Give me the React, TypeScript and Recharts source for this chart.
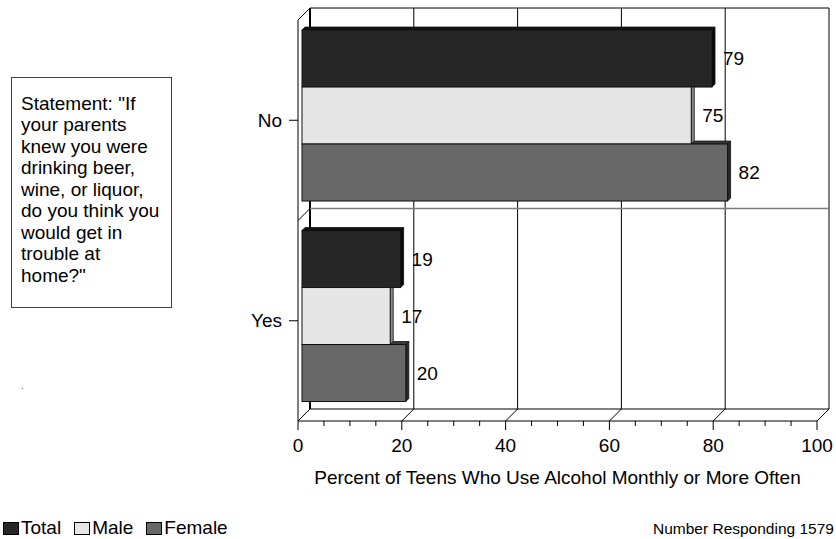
import { BarChart, Bar, XAxis, YAxis, CartesianGrid, ReferenceArea } from "recharts";

// ---- data ----
const CATEGORIES = ["No", "Yes"];
const SERIES = ["Total", "Male", "Female"];
const TOTAL = [79, 19];
const MALE = [75, 17];
const FEMALE = [82, 20];

const X_TICKS = [0, 5, 10, 15, 20, 25, 30, 35, 40, 45, 50, 55, 60, 65, 70, 75, 80, 85, 90, 95, 100];
const X_LABELED = [0, 20, 40, 60, 80, 100];

const AXIS_TITLE = "Percent of Teens Who Use Alcohol Monthly or More Often";
const FOOTNOTE = "Number Responding 1579";
const STATEMENT_LINES = [
  'Statement: "If',
  "your parents",
  "knew you were",
  "drinking beer,",
  "wine, or liquor,",
  "do you think you",
  "would get in",
  "trouble at",
  'home?"',
];

// ---- styling ----
const FONT = "'Liberation Sans', Arial, Helvetica, sans-serif";
const FACE = ["#262626", "#e6e6e6", "#686868"];
const SIDE = ["#080808", "#8a8a8a", "#2a2a2a"];
const TOP = ["#111111", "#a8a8a8", "#3a3a3a"];
const EDGE = "#111";
const WALL = 12; // depth of the back wall
const SHIFT = 4; // bars sit a little behind the front plane
const EXT = 3; // bar thickness

const data = CATEGORIES.map((cat, i) => ({
  cat,
  Total: TOTAL[i],
  Male: MALE[i],
  Female: FEMALE[i],
}));

// back wall verticals + floor diagonals, one per labelled tick
const gridVertical = (p: any) => {
  const { x1, y1, y2, index } = p;
  if (!X_LABELED.includes(X_TICKS[index])) return <g />;
  return (
    <g>
      <line x1={x1 + WALL} y1={y1 - WALL} x2={x1 + WALL} y2={y2 - WALL} stroke="#000" strokeWidth={index === 0 ? 2 : 1} />
      <line x1={x1} y1={y2} x2={x1 + WALL} y2={y2 - WALL} stroke="#000" />
    </g>
  );
};

// horizontal pieces of the wall for each category band
const bandFrame = (i: number) => (p: any) => {
  const { x, y, width, height } = p;
  const last = i === CATEGORIES.length - 1;
  return (
    <g>
      <line x1={x} y1={y} x2={x + WALL} y2={y - WALL} stroke="#000" />
      <line
        x1={x + WALL}
        y1={y - WALL}
        x2={x + width + WALL}
        y2={y - WALL}
        stroke={i === 0 ? "#000" : "#7a7a7a"}
        strokeWidth={i === 0 ? 1 : 1.5}
      />
      {last && (
        <line x1={x + WALL} y1={y + height - WALL} x2={x + width + WALL} y2={y + height - WALL} stroke="#000" />
      )}
    </g>
  );
};

const XTick = (p: any) => {
  const { x, y, payload } = p;
  const major = X_LABELED.includes(payload.value);
  return (
    <g>
      <line x1={x} y1={y} x2={x} y2={y + (major ? 9 : 5)} stroke="#000" />
      {major && (
        <text x={x} y={y + 31} textAnchor="middle" fill="#000" fontSize={19}>
          {payload.value}
        </text>
      )}
    </g>
  );
};

// pseudo 3D bar: front face, right side, top (only where the bar above doesn't hide it)
const makeBar = (si: number) => (p: any) => {
  const { x, y, width: w, height: h, payload } = p;
  const val = payload[SERIES[si]];
  const prevW = si > 0 && val > 0 ? (w * payload[SERIES[si - 1]]) / val : 0;
  const fx = x + SHIFT;
  const fy = y - SHIFT;
  const topFrom = si === 0 ? 0 : prevW;
  const sideClipped = si > 0 && prevW >= w + EXT;
  const sidePts = sideClipped
    ? `${fx + w},${fy} ${fx + w + EXT},${fy} ${fx + w + EXT},${fy + h - EXT} ${fx + w},${fy + h}`
    : `${fx + w},${fy} ${fx + w + EXT},${fy - EXT} ${fx + w + EXT},${fy + h - EXT} ${fx + w},${fy + h}`;
  return (
    <g>
      {w > topFrom && (
        <polygon
          points={`${fx + topFrom},${fy} ${fx + w},${fy} ${fx + w + EXT},${fy - EXT} ${fx + topFrom + EXT},${fy - EXT}`}
          fill={TOP[si]}
          stroke={EDGE}
          strokeWidth={0.8}
        />
      )}
      <polygon points={sidePts} fill={SIDE[si]} stroke={EDGE} strokeWidth={0.8} />
      <rect x={fx} y={fy} width={w} height={h} fill={FACE[si]} stroke={EDGE} strokeWidth={1} />
      <text x={x + w + 15} y={fy + h / 2} dy="0.355em" fill="#000" fontSize={19}>
        {val}
      </text>
    </g>
  );
};

export default function App() {
  return (
    <div style={{ position: "absolute", left: 0, top: 0, width: 836, height: 539, fontFamily: FONT, background: "#fff" }}>
      <BarChart
        width={836}
        height={539}
        data={data}
        layout="vertical"
        margin={{ top: 20, right: 19, bottom: 88, left: 238 }}
        barCategoryGap="7%"
        barGap={0}
      >
        <CartesianGrid vertical={gridVertical} horizontal={false} syncWithTicks />
        {CATEGORIES.map((c, i) => (
          <ReferenceArea key={c} y1={c} y2={c} x1={0} x2={100} ifOverflow="visible" shape={bandFrame(i)} />
        ))}
        <XAxis
          type="number"
          domain={[0, 100]}
          ticks={X_TICKS}
          interval={0}
          tickSize={0}
          tickMargin={0}
          tickLine={false}
          axisLine={{ stroke: "#000" }}
          height={30}
          tick={XTick}
          label={{ value: AXIS_TITLE, position: "bottom", offset: 20, fill: "#000", fontSize: 19 }}
        />
        <YAxis
          type="category"
          dataKey="cat"
          width={60}
          tickSize={9}
          tickMargin={7}
          axisLine={{ stroke: "#000" }}
          tickLine={{ stroke: "#000" }}
          tick={{ fill: "#000", fontSize: 19 }}
        />
        {SERIES.map((s, i) => (
          <Bar key={s} dataKey={s} fill={FACE[i]} shape={makeBar(i)} isAnimationActive={false} />
        ))}
      </BarChart>

      <div
        style={{
          position: "absolute",
          left: 11,
          top: 77,
          width: 161,
          height: 231,
          border: "1px solid #404040",
          paddingLeft: 9,
          paddingTop: 14.5,
          boxSizing: "border-box",
          fontSize: 19,
          lineHeight: "21.5px",
          color: "#000",
        }}
      >
        {STATEMENT_LINES.map((l) => (
          <div key={l} style={{ whiteSpace: "nowrap" }}>
            {l}
          </div>
        ))}
      </div>

      <div style={{ position: "absolute", left: 21, top: 380, fontSize: 10, color: "#666" }}>.</div>

      <div style={{ position: "absolute", left: 3, top: 518, display: "flex", fontSize: 19, lineHeight: "19px", color: "#000" }}>
        {SERIES.map((s, i) => (
          <div key={s} style={{ display: "flex", alignItems: "flex-start", marginRight: 13 }}>
            <div style={{ width: 14, height: 11, marginTop: 4, marginRight: 2, background: FACE[i], border: "1px solid #000" }} />
            <span>{s}</span>
          </div>
        ))}
      </div>

      <div style={{ position: "absolute", left: 653, top: 521, fontSize: 15.5, lineHeight: "16px", color: "#000", whiteSpace: "nowrap" }}>
        {FOOTNOTE}
      </div>
    </div>
  );
}
